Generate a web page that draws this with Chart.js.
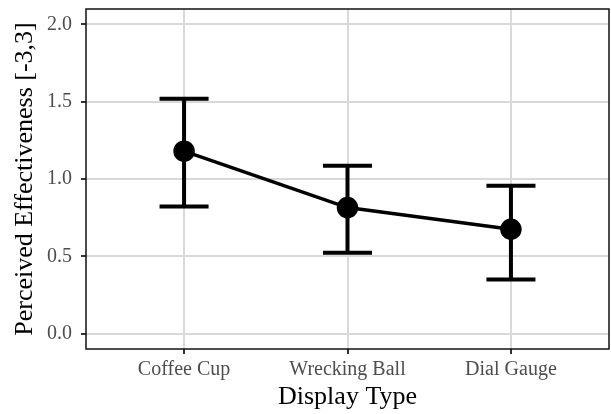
<!DOCTYPE html>
<html>
<head>
<meta charset="utf-8">
<script src="https://cdn.jsdelivr.net/npm/chart.js@4"></script>
<style>
  body { margin: 0; background: #fff; }
</style>
</head>
<body>
<canvas id="chart" width="611" height="414"></canvas>
<script>
// data
const categories = ['Coffee Cup', 'Wrecking Ball', 'Dial Gauge'];
const means = [1.18, 0.815, 0.675];
const upper = [1.52, 1.085, 0.957];
const lower = [0.822, 0.523, 0.35];
const yTicks = [0.0, 0.5, 1.0, 1.5, 2.0];

const points = means.map((m, i) => ({ x: i + 1, y: m }));

// white background + panel border
const panelPlugin = {
    id: 'panel',
    beforeDraw(chart) {
        const ctx = chart.ctx;
        ctx.save();
        ctx.fillStyle = '#fff';
        ctx.fillRect(0, 0, chart.width, chart.height);
        ctx.restore();
    },
    afterDraw(chart) {
        const a = chart.chartArea;
        const ctx = chart.ctx;
        ctx.save();
        ctx.strokeStyle = '#111';
        ctx.lineWidth = 1.5;
        ctx.strokeRect(a.left, a.top, a.right - a.left, a.bottom - a.top);
        ctx.restore();
    }
};

// error bars drawn through the scales
const errorBarPlugin = {
    id: 'errorBars',
    afterDatasetsDraw(chart) {
        const xs = chart.scales.x;
        const ys = chart.scales.y;
        const ctx = chart.ctx;
        ctx.save();
        ctx.strokeStyle = '#000';
        ctx.lineWidth = 4;
        ctx.lineCap = 'butt';
        categories.forEach((c, i) => {
            const x = xs.getPixelForValue(i + 1);
            const xl = xs.getPixelForValue(i + 1 - 0.15);
            const xr = xs.getPixelForValue(i + 1 + 0.15);
            const yHi = ys.getPixelForValue(upper[i]);
            const yLo = ys.getPixelForValue(lower[i]);
            ctx.beginPath();
            ctx.moveTo(x, yHi);
            ctx.lineTo(x, yLo);
            ctx.moveTo(xl, yHi);
            ctx.lineTo(xr, yHi);
            ctx.moveTo(xl, yLo);
            ctx.lineTo(xr, yLo);
            ctx.stroke();
        });
        ctx.restore();
    }
};

const serif = '"Liberation Serif", "DejaVu Serif", serif';

new Chart(document.getElementById('chart'), {
    type: 'line',
    data: {
        datasets: [{
            data: points,
            borderColor: '#000',
            backgroundColor: '#000',
            borderWidth: 3.5,
            pointRadius: 9,
            pointHoverRadius: 9,
            pointBackgroundColor: '#000',
            tension: 0
        }]
    },
    options: {
        responsive: false,
        animation: false,
        layout: {
            autoPadding: false,
            padding: { top: 9, right: 2, bottom: 0, left: 0 }
        },
        plugins: {
            legend: { display: false },
            tooltip: { enabled: false }
        },
        scales: {
            x: {
                type: 'linear',
                min: 0.4,
                max: 3.6,
                border: { display: false },
                grid: {
                    color: '#d9d9d9',
                    lineWidth: 2,
                    tickColor: '#333',
                    tickWidth: 2,
                    tickLength: 5
                },
                ticks: {
                    stepSize: 1,
                    includeBounds: false,
                    color: '#4d4d4d',
                    font: { family: serif, size: 20 },
                    padding: 4,
                    maxRotation: 0,
                    callback: v => categories[v - 1] || ''
                },
                title: {
                    display: true,
                    text: 'Display Type',
                    color: '#000',
                    font: { family: serif, size: 26 },
                    padding: { top: 0, bottom: 1 }
                },
                afterFit(scale) {
                    scale.height = 65;
                    scale.paddingLeft = 0;
                    scale.paddingRight = 0;
                }
            },
            y: {
                type: 'linear',
                min: -0.1,
                max: 2.1,
                border: { display: false },
                grid: {
                    color: '#d9d9d9',
                    lineWidth: 2,
                    tickColor: '#333',
                    tickWidth: 2,
                    tickLength: 5
                },
                afterBuildTicks(scale) {
                    scale.ticks = yTicks.map(v => ({ value: v }));
                },
                ticks: {
                    color: '#4d4d4d',
                    font: { family: serif, size: 20 },
                    padding: 9,
                    callback: v => v.toFixed(1)
                },
                title: {
                    display: true,
                    text: 'Perceived Effectiveness [-3,3]',
                    color: '#000',
                    font: { family: serif, size: 26 },
                    padding: { top: 10, bottom: 0 }
                },
                afterFit(scale) {
                    scale.width = 86;
                    scale.paddingTop = 0;
                    scale.paddingBottom = 0;
                }
            }
        }
    },
    plugins: [panelPlugin, errorBarPlugin]
});
</script>
</body>
</html>
